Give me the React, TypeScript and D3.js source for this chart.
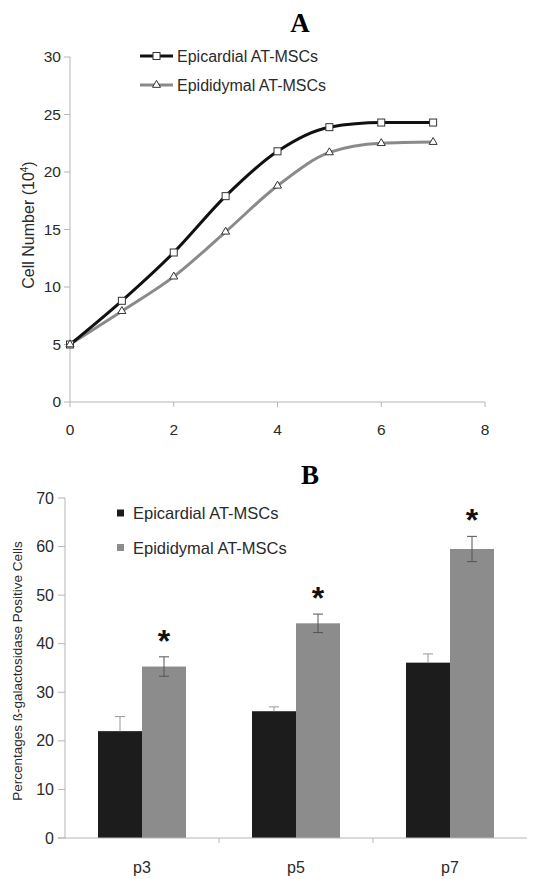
import React from "react";
import * as d3 from "d3";

// panel A: growth curves
const days = [0, 1, 2, 3, 4, 5, 6, 7];
const epicardialGrowth = [5, 8.8, 13, 17.9, 21.8, 23.9, 24.3, 24.3];
const epididymalGrowth = [5, 7.9, 10.9, 14.8, 18.8, 21.7, 22.5, 22.6];
const growthYTicks = [0, 5, 10, 15, 20, 25, 30];
const growthXTicks = [0, 2, 4, 6, 8];

// panel B: senescence bars
const passages = ["p3", "p5", "p7"];
const epicardialSen = [22, 26.1, 36.1];
const epicardialErr = [3, 0.9, 1.8];
const epididymalSen = [35.3, 44.2, 59.5];
const epididymalErr = [2, 1.9, 2.6];
const senYTicks = [0, 10, 20, 30, 40, 50, 60, 70];

const seriesNames = ["Epicardial AT-MSCs", "Epididymal AT-MSCs"];

const font = "'Liberation Sans', Arial, sans-serif";
const axisColor = "#b5b5b5";
const textColor = "#2a2a2a";

const App = () => {
  // ---- A scales
  const xA = d3.scaleLinear().domain([0, 8]).range([70, 485]);
  const yA = d3.scaleLinear().domain([0, 30]).range([402, 57]);
  const line = d3
    .line<number>()
    .x((d, i) => xA(days[i]))
    .y((d) => yA(d))
    .curve(d3.curveMonotoneX);

  // ---- B scales
  const xB = d3.scaleBand<string>().domain(passages).range([65, 527]);
  const inner = d3
    .scaleBand<number>()
    .domain([0, 1])
    .range([0, 88]);
  const yB = d3.scaleLinear().domain([0, 70]).range([838, 498]);
  const barOffset = (xB.bandwidth() - 88) / 2;

  const tri = d3.symbol(d3.symbolTriangle, 28)();

  return (
    <svg
      width={544}
      height={879}
      style={{ position: "absolute", left: 0, top: 0, background: "#fff" }}
      fontFamily={font}
    >
      {/* ===== Panel A ===== */}
      <text x={300} y={32} textAnchor="middle" fontFamily="'Liberation Serif', 'Times New Roman', serif" fontWeight="bold" fontSize={27}>
        A
      </text>

      <line x1={xA(0)} x2={xA(0)} y1={yA(30)} y2={yA(0)} stroke={axisColor} />
      <line x1={xA(0)} x2={xA(8)} y1={yA(0)} y2={yA(0)} stroke={axisColor} />
      {growthYTicks.map((t) => (
        <g key={"ya" + t}>
          <line x1={xA(0) - 6} x2={xA(0)} y1={yA(t)} y2={yA(t)} stroke={axisColor} />
          <text x={xA(0) - 9} y={yA(t)} dy="0.35em" textAnchor="end" fontSize={15.5} fill={textColor}>
            {t}
          </text>
        </g>
      ))}
      {growthXTicks.map((t) => (
        <g key={"xa" + t}>
          <line x1={xA(t)} x2={xA(t)} y1={yA(0)} y2={yA(0) + 5} stroke={axisColor} />
          <text x={xA(t)} y={yA(0) + 28} dy="0.35em" textAnchor="middle" fontSize={15.5} fill={textColor}>
            {t}
          </text>
        </g>
      ))}
      <text
        transform={`translate(34,225) rotate(-90)`}
        textAnchor="middle"
        fontSize={16}
        fill={textColor}
      >
        Cell Number (10<tspan dy="-6" fontSize={10}>4</tspan>
        <tspan dy="6">)</tspan>
      </text>

      <path d={line(epididymalGrowth) || ""} fill="none" stroke="#8a8a8a" strokeWidth={3} />
      <path d={line(epicardialGrowth) || ""} fill="none" stroke="#111" strokeWidth={3} />
      {epicardialGrowth.map((v, i) => (
        <rect
          key={"sq" + i}
          x={xA(days[i]) - 3.5}
          y={yA(v) - 3.5}
          width={7}
          height={7}
          fill="#fff"
          stroke="#333"
          strokeWidth={1}
        />
      ))}
      {epididymalGrowth.map((v, i) => (
        <path
          key={"tr" + i}
          d={tri || ""}
          transform={`translate(${xA(days[i])},${yA(v)})`}
          fill="#fff"
          stroke="#333"
          strokeWidth={1}
        />
      ))}

      {/* legend A */}
      <line x1={140} x2={173} y1={56} y2={56} stroke="#111" strokeWidth={3} />
      <rect x={153} y={52.5} width={7} height={7} fill="#fff" stroke="#333" />
      <text x={177} y={56} dy="0.35em" fontSize={16} fill={textColor}>
        {seriesNames[0]}
      </text>
      <line x1={140} x2={173} y1={85} y2={85} stroke="#8a8a8a" strokeWidth={3} />
      <path d={tri || ""} transform="translate(156.5,85)" fill="#fff" stroke="#333" />
      <text x={177} y={85} dy="0.35em" fontSize={16} fill={textColor}>
        {seriesNames[1]}
      </text>

      {/* ===== Panel B ===== */}
      <text x={310} y={484} textAnchor="middle" fontFamily="'Liberation Serif', 'Times New Roman', serif" fontWeight="bold" fontSize={27}>
        B
      </text>

      {passages.map((p, i) => {
        const x0 = (xB(p) || 0) + barOffset;
        const bars = [
          { v: epicardialSen[i], e: epicardialErr[i], fill: "#1c1c1c", k: 0 },
          { v: epididymalSen[i], e: epididymalErr[i], fill: "#8c8c8c", k: 1 },
        ];
        return (
          <g key={p}>
            {bars.map((b) => {
              const bx = x0 + (inner(b.k) || 0);
              const cx = bx + inner.bandwidth() / 2;
              return (
                <g key={b.k}>
                  <rect
                    x={bx}
                    y={yB(b.v)}
                    width={inner.bandwidth()}
                    height={yB(0) - yB(b.v)}
                    fill={b.fill}
                  />
                  <line
                    x1={cx}
                    x2={cx}
                    y1={b.k === 0 ? yB(b.v) : yB(b.v - b.e)}
                    y2={yB(b.v + b.e)}
                    stroke={b.k === 0 ? "#999" : "#555"}
                  />
                  <line x1={cx - 5} x2={cx + 5} y1={yB(b.v + b.e)} y2={yB(b.v + b.e)} stroke={b.k === 0 ? "#999" : "#555"} />
                  {b.k === 1 && (
                    <line x1={cx - 5} x2={cx + 5} y1={yB(b.v - b.e)} y2={yB(b.v - b.e)} stroke="#555" />
                  )}
                </g>
              );
            })}
            <text
              x={x0 + (inner(1) || 0) + inner.bandwidth() / 2}
              y={yB(epididymalSen[i] + epididymalErr[i]) - 29}
              dy="0.75em"
              textAnchor="middle"
              fontSize={32}
              fontWeight="bold"
              fill="#111"
            >
              *
            </text>
          </g>
        );
      })}

      <line x1={65} x2={65} y1={yB(70)} y2={yB(0)} stroke={axisColor} />
      <line x1={58} x2={527} y1={yB(0)} y2={yB(0)} stroke={axisColor} />
      {senYTicks.map((t) => (
        <g key={"yb" + t}>
          <line x1={58} x2={65} y1={yB(t)} y2={yB(t)} stroke={axisColor} />
          <text x={54} y={yB(t)} dy="0.35em" textAnchor="end" fontSize={16} fill={textColor}>
            {t}
          </text>
        </g>
      ))}
      {[xB("p5"), xB("p7")].map((x, i) => (
        <line key={"xb" + i} x1={x} x2={x} y1={yB(0)} y2={yB(0) + 5} stroke={axisColor} />
      ))}
      {passages.map((p) => (
        <text
          key={"lb" + p}
          x={(xB(p) || 0) + xB.bandwidth() / 2}
          y={867}
          dy="0.35em"
          textAnchor="middle"
          fontSize={16}
          fill={textColor}
        >
          {p}
        </text>
      ))}
      <text
        transform={`translate(22,671) rotate(-90)`}
        textAnchor="middle"
        fontSize={13.5}
        fill={textColor}
      >
        Percentages ß-galactosidase Positive Cells
      </text>

      {/* legend B */}
      <rect x={117} y={509.5} width={7} height={7} fill="#1c1c1c" />
      <text x={133} y={513} dy="0.35em" fontSize={16.5} fill={textColor}>
        {seriesNames[0]}
      </text>
      <rect x={117} y={544} width={7} height={7} fill="#8c8c8c" />
      <text x={133} y={548} dy="0.35em" fontSize={16.5} fill={textColor}>
        {seriesNames[1]}
      </text>
    </svg>
  );
};

export default App;
